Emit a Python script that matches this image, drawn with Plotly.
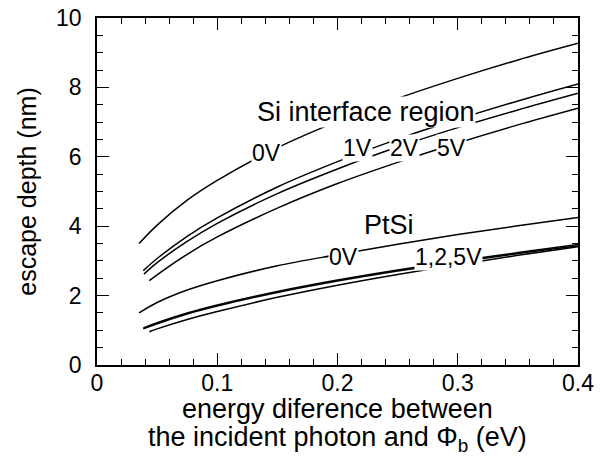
import plotly.graph_objects as go

# ---- data ----
x_si_0v = [0.035, 0.05, 0.075, 0.1, 0.15, 0.2, 0.25, 0.3, 0.35, 0.4]
y_si_0v = [3.50, 4.03, 4.75, 5.32, 6.26, 7.02, 7.68, 8.26, 8.79, 9.27]

x_si_1v = [0.0385, 0.05, 0.075, 0.1, 0.15, 0.2, 0.25, 0.3, 0.35, 0.4]
y_si_1v = [2.72, 3.07, 3.71, 4.24, 5.13, 5.86, 6.51, 7.08, 7.61, 8.10]

x_si_2v = [0.039, 0.05, 0.075, 0.1, 0.15, 0.2, 0.25, 0.3, 0.35, 0.4]
y_si_2v = [2.62, 2.95, 3.56, 4.08, 4.94, 5.65, 6.28, 6.84, 7.35, 7.83]

x_si_5v = [0.0435, 0.05, 0.075, 0.1, 0.15, 0.2, 0.25, 0.3, 0.35, 0.4]
y_si_5v = [2.43, 2.60, 3.19, 3.69, 4.52, 5.23, 5.84, 6.40, 6.92, 7.40]

x_pt_0v = [0.035, 0.05, 0.075, 0.1, 0.15, 0.2, 0.25, 0.3, 0.35, 0.4]
y_pt_0v = [1.50, 1.80, 2.16, 2.43, 2.86, 3.18, 3.48, 3.76, 4.01, 4.25]

x_pt_1v = [0.0385, 0.05, 0.075, 0.1, 0.15, 0.2, 0.25, 0.3, 0.35, 0.4]
y_pt_1v = [1.07, 1.22, 1.50, 1.73, 2.12, 2.45, 2.74, 3.00, 3.24, 3.47]

x_pt_2v = [0.0385, 0.05, 0.075, 0.1, 0.15, 0.2, 0.25, 0.3, 0.35, 0.4]
y_pt_2v = [1.04, 1.19, 1.47, 1.70, 2.09, 2.42, 2.71, 2.97, 3.21, 3.44]

x_pt_5v = [0.0435, 0.05, 0.075, 0.1, 0.15, 0.2, 0.25, 0.3, 0.35, 0.4]
y_pt_5v = [0.96, 1.04, 1.31, 1.54, 1.95, 2.30, 2.61, 2.89, 3.16, 3.41]

series = [
    ("Si 0V", x_si_0v, y_si_0v),
    ("Si 1V", x_si_1v, y_si_1v),
    ("Si 2V", x_si_2v, y_si_2v),
    ("Si 5V", x_si_5v, y_si_5v),
    ("PtSi 0V", x_pt_0v, y_pt_0v),
    ("PtSi 1V", x_pt_1v, y_pt_1v),
    ("PtSi 2V", x_pt_2v, y_pt_2v),
    ("PtSi 5V", x_pt_5v, y_pt_5v),
]

x_tick_vals = [0, 0.1, 0.2, 0.3, 0.4]
x_tick_text = ["0", "0.1", "0.2", "0.3", "0.4"]
y_tick_vals = [0, 2, 4, 6, 8, 10]

# curve labels: text, x, y, font size
label_text = ["Si interface region", "0V", "1V", "2V", "5V", "PtSi", "0V", "1,2,5V"]
label_x = [0.2241, 0.1411, 0.2166, 0.2561, 0.2944, 0.2428, 0.2054, 0.2927]
label_y = [7.30, 6.12, 6.25, 6.25, 6.25, 4.03, 3.10, 3.10]
label_size = [27, 23, 23, 23, 23, 27, 23, 23]

x_title_lines = ["energy diference between", "the incident photon and Φ<sub>b</sub> (eV)"]
y_title = "escape depth (nm)"

FONT = "Liberation Sans, Arial, Helvetica, sans-serif"

fig = go.Figure()
for name, xs, ys in series:
    fig.add_trace(go.Scatter(x=xs, y=ys, mode="lines", name=name,
                             line=dict(color="black", width=1.5, shape="spline"),
                             showlegend=False, hoverinfo="skip"))
# invisible trace to activate mirrored tick axes
fig.add_trace(go.Scatter(x=[0, 0.4], y=[0, 10], xaxis="x2", yaxis="y2", mode="lines",
                         line=dict(width=0), showlegend=False, hoverinfo="skip"))

for t, lx, ly, fs in zip(label_text, label_x, label_y, label_size):
    fig.add_annotation(x=lx, y=ly, text=t, showarrow=False, xref="x", yref="y",
                       font=dict(family=FONT, size=fs, color="black"),
                       bgcolor="white", borderpad=0)

# x-axis title as two lines placed under the tick labels
for t, yy in zip(x_title_lines, [-0.126, -0.213]):
    fig.add_annotation(x=0.5, y=yy, xref="paper", yref="paper", text=t,
                       showarrow=False, xanchor="center", yanchor="middle",
                       font=dict(family=FONT, size=27, color="black"))

fig.update_layout(
    width=610, height=472,
    margin=dict(l=89, r=40, t=10, b=115),
    paper_bgcolor="white", plot_bgcolor="white",
    font=dict(family=FONT, color="black", size=23),
    showlegend=False,
    xaxis=dict(
        range=[0, 0.4], tickvals=x_tick_vals, ticktext=x_tick_text,
        ticks="inside", ticklen=12, tickwidth=1.2, tickcolor="black",
        minor=dict(dtick=0.02, ticks="inside", ticklen=6, tickwidth=1.2, tickcolor="black"),
        showline=True, linecolor="black", linewidth=1.5, mirror=True,
        showgrid=False, zeroline=False, automargin=False,
        tickfont=dict(size=23), ticklabelstandoff=-3, ticklabeloverflow="allow",
    ),
    yaxis=dict(
        range=[0, 10], tickvals=y_tick_vals,
        ticks="inside", ticklen=12, tickwidth=1.2, tickcolor="black",
        minor=dict(dtick=0.5, ticks="inside", ticklen=6, tickwidth=1.2, tickcolor="black"),
        showline=True, linecolor="black", linewidth=1.5, mirror=True,
        showgrid=False, zeroline=False, automargin=False,
        tickfont=dict(size=23), ticklabelstandoff=9, ticklabeloverflow="allow",
        title=dict(text=y_title, font=dict(size=25), standoff=12),
    ),
    xaxis2=dict(
        range=[0, 0.4], overlaying="x", side="top", tickvals=x_tick_vals,
        showticklabels=False, ticks="inside", ticklen=12, tickwidth=1.2, tickcolor="black",
        minor=dict(dtick=0.02, ticks="inside", ticklen=6, tickwidth=1.2, tickcolor="black"),
        showgrid=False, zeroline=False, showline=False, automargin=False,
    ),
    yaxis2=dict(
        range=[0, 10], overlaying="y", side="right", tickvals=y_tick_vals,
        showticklabels=False, ticks="inside", ticklen=12, tickwidth=1.2, tickcolor="black",
        minor=dict(dtick=0.5, ticks="inside", ticklen=6, tickwidth=1.2, tickcolor="black"),
        showgrid=False, zeroline=False, showline=False, automargin=False,
    ),
)

fig.write_html("out.html")
